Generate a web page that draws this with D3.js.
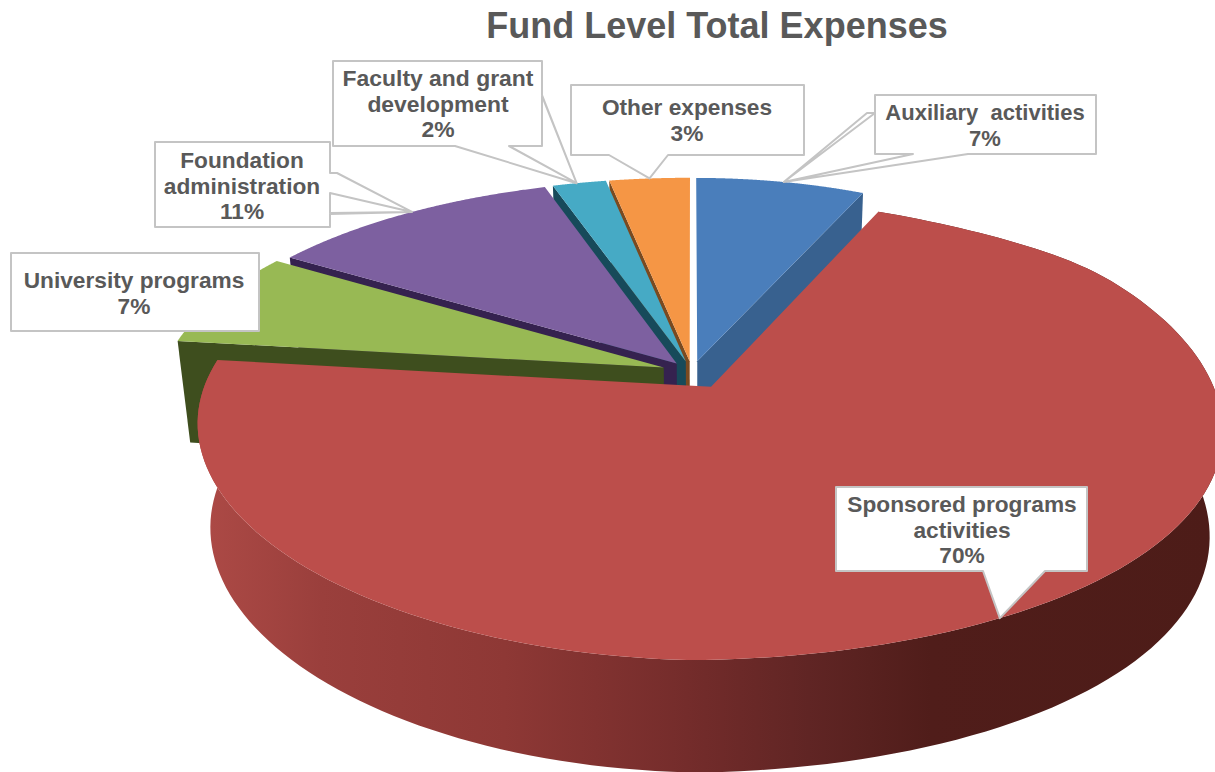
<!DOCTYPE html>
<html>
<head>
<meta charset="utf-8">
<title>Fund Level Total Expenses</title>
<script src="https://cdn.jsdelivr.net/npm/d3@7"></script>
<style>
  html, body { margin: 0; padding: 0; background: #fff; }
  svg { display: block; }
  text { font-family: "Liberation Sans", Arial, sans-serif; font-weight: bold; fill: #595959; }
</style>
</head>
<body>
<svg id="chart" width="1215" height="772"></svg>
<script>
// Chart content
const chartTitle = "Fund Level Total Expenses";
const categories = ["Auxiliary activities", "Sponsored programs activities", "University programs",
                    "Foundation administration", "Faculty and grant development", "Other expenses"];
const percentages = [7, 70, 7, 11, 2, 3];

// Slice presentation, in the same order as the categories
const topColors  = ["#4a7ebb", "#bc4e4b", "#98b954", "#7d60a0", "#46aac5", "#f59645"];
const sideColors = ["#38618f", "url(#sideShade)", "#3e4e1e", "#35224f", "#174a5a", "#7a4a20"];
const explode    = [0.05, 0.08, 0.06, 0.05, 0.05, 0.05];
const paintOrder = [5, 4, 3, 2, 0, 1];   // back slices first, the big near slice last

// Perspective of the pie plane: a runs left to right, b runs far to near
const view = { cx: 692, cy: 372, leftX: 502, rightX: 485, leftQ: 0.16, rightQ: 0.25, depthY: 219, qY: 0.175,
               tilt: 18, thickness: 103, thickGrow: 0.085, vanishX: 705, vanishY: 4600 };

const svg = d3.select("#chart");
const pie = d3.pie().value(d => d).sort(null).startAngle(0).endAngle(2 * Math.PI);
const slices = pie(percentages);

function planePoint(i, theta, radius) {
  const mid = (slices[i].startAngle + slices[i].endAngle) / 2;
  return {
    a: radius * Math.sin(theta) + explode[i] * Math.sin(mid),
    b: -radius * Math.cos(theta) - explode[i] * Math.cos(mid)
  };
}

function projectTop({ a, b }) {
  const scale = a < 0 ? view.leftX / (1 - view.leftQ * b) : view.rightX / (1 - view.rightQ * b);
  // The right half of the plane leans slightly up, fading out toward the far edge
  const t = Math.max(0, Math.min(1, (b + 0.95) / 0.6));
  const lean = a > 0 ? view.tilt * a * t * t * (3 - 2 * t) : 0;
  return [view.cx + a * scale, view.cy + view.depthY * b / (1 - view.qY * b) - lean];
}

function projectBase(p) {
  const [x, y] = projectTop(p);
  const drop = view.thickness * (1 + view.thickGrow * p.b);
  return [x + (view.vanishX - x) / (view.vanishY - y) * drop, y + drop];
}

function rim(i, project) {
  const { startAngle, endAngle } = slices[i];
  return d3.range(0, 1.0001, 1 / 160).map(t =>
    project(planePoint(i, startAngle + t * (endAngle - startAngle), 1)));
}

const outline = d3.line().curve(d3.curveLinearClosed);

// Side shading of the big slice, light at the left and dark toward the right
const shade = svg.append("defs").append("linearGradient")
  .attr("id", "sideShade").attr("gradientUnits", "userSpaceOnUse")
  .attr("x1", 200).attr("x2", 1215).attr("y1", 0).attr("y2", 0);
[[0, "#ad4a46"], [0.12, "#9a3f3c"], [0.3, "#8e3835"], [0.48, "#742c2b"], [0.6, "#602524"], [0.72, "#501d1a"], [1, "#4d1c18"]]
  .forEach(([o, c]) => shade.append("stop").attr("offset", o).attr("stop-color", c));

const groups = svg.append("g").selectAll("g").data(paintOrder).join("g");

groups.each(function (i) {
  const g = d3.select(this);
  const apex = planePoint(i, 0, 0);
  const { startAngle, endAngle } = slices[i];
  // Blue shows the cut at its end angle, the slices left of it show the start cut
  const cutAngle = i === 0 ? endAngle : startAngle;
  const corner = planePoint(i, cutAngle, 1);

  if (i === 1) {
    g.append("path").attr("fill", sideColors[i])
      .attr("d", outline(rim(i, projectTop).concat(rim(i, projectBase).reverse())));
  } else {
    g.append("path").attr("fill", sideColors[i])
      .attr("d", outline([projectTop(corner), projectBase(corner), projectBase(apex), projectTop(apex)]));
  }
  g.append("path").attr("fill", topColors[i])
    .attr("d", outline([projectTop(apex)].concat(rim(i, projectTop))));
});

// Data labels: "tip" stands for the point on the slice rim a callout reaches to
const callouts = [
  { slice: 0, rimAt: 0.52, lines: ["Auxiliary  activities", "7%"], x: 985, y: 120, size: 22,
    shape: [[875,95],[1096,95],[1096,154],[968,154],"tip",[913,154],[875,154],[875,113],[867,113],"tip",[875,113]] },
  { slice: 5, rimAt: 0.5, lines: ["Other expenses", "3%"], x: 687, y: 115, size: 22.7,
    shape: [[571,85],[804,85],[804,155],[668,155],"tip",[609,155],[571,155]] },
  { slice: 4, rimAt: 0.45, lines: ["Faculty and grant", "development", "2%"], x: 438, y: 86, size: 22.9,
    shape: [[333,61],[542,61],[542,95],"tip",[542,96],[542,146],[509,146],"tip",[455,146],[333,146]] },
  { slice: 3, rimAt: 0.52, lines: ["Foundation", "administration", "11%"], x: 242, y: 168, size: 22.7,
    shape: [[155,142],[330,142],[330,173],[337,173],"tip",[330,193],[330,213],"tip",[330,214],[330,227],[155,227]] },
  { slice: 2, rimAt: null, lines: ["University programs", "7%"], x: 134, y: 288, size: 22.7,
    shape: [[11,253],[259,253],[259,331],[11,331]] },
  { slice: 1, rimAt: 0.51, lines: ["Sponsored programs", "activities", "70%"], x: 962, y: 512, size: 22.7,
    shape: [[836,487],[1087,487],[1087,571],[1045,571],"tip",[983,571],[836,571]] }
];

const labels = svg.append("g").selectAll("g").data(callouts).join("g");

labels.append("path")
  .attr("fill", "#fff").attr("stroke", "#c4c4c4").attr("stroke-width", 2).attr("stroke-linejoin", "round")
  .attr("d", c => {
    const s = slices[c.slice];
    const tip = c.rimAt === null ? null
      : projectTop(planePoint(c.slice, s.startAngle + c.rimAt * (s.endAngle - s.startAngle), 1));
    return outline(c.shape.map(p => p === "tip" ? tip : p));
  });

labels.append("text")
  .attr("text-anchor", "middle")
  .style("font-size", c => c.size + "px")
  .each(function (c) {
    d3.select(this).selectAll("tspan").data(c.lines).join("tspan")
      .attr("x", c.x).attr("y", (d, k) => c.y + k * 25.5)
      .style("white-space", "pre").text(d => d);
  });

svg.append("text").attr("x", 717).attr("y", 38).attr("text-anchor", "middle")
  .style("font-size", "36px").text(chartTitle);
</script>
</body>
</html>
